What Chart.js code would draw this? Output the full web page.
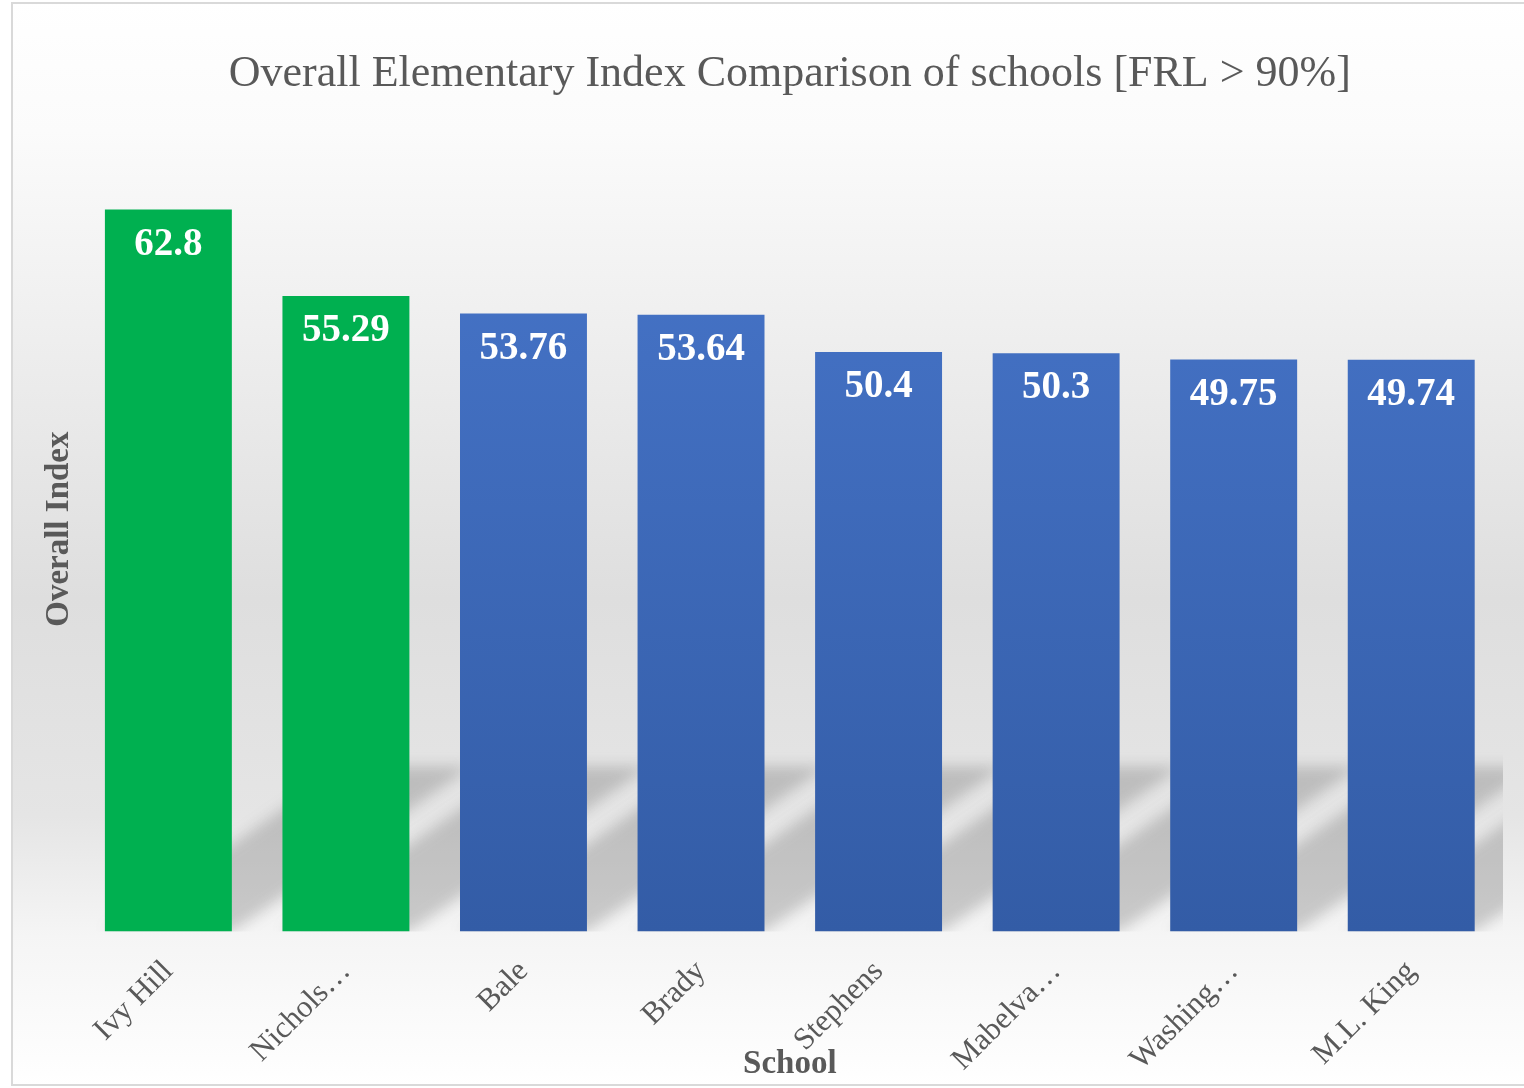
<!DOCTYPE html>
<html>
<head>
<meta charset="utf-8">
<title>Overall Elementary Index Comparison</title>
<script src="https://cdn.jsdelivr.net/npm/chart.js@4.4.1/dist/chart.umd.min.js"></script>
<style>
  html, body { margin: 0; padding: 0; background: #ffffff; }
  canvas { display: block; }
</style>
</head>
<body>
<canvas id="indexChart" width="1524" height="1088"></canvas>
<script>
// Données du graphique
const schools = ['Ivy Hill', 'Nichols…', 'Bale', 'Brady', 'Stephens', 'Mabelva…', 'Washing…', 'M.L. King'];
const overallIndex = [62.8, 55.29, 53.76, 53.64, 50.4, 50.3, 49.75, 49.74];
const highlighted = ['Ivy Hill', 'Nichols…'];

const textGray = '#595959';
const serif = '"Liberation Serif", "Times New Roman", serif';

// Fond dégradé et bordure du graphique
const backgroundPlugin = {
    id: 'backgroundPlugin',
    beforeDraw(chart) {
        const ctx = chart.ctx;
        const h = chart.height;
        const g = ctx.createLinearGradient(0, 0, 0, h);
        g.addColorStop(0, '#ffffff');
        g.addColorStop(0.12, '#fbfbfb');
        g.addColorStop(0.55, '#dedede');
        g.addColorStop(0.75, '#e5e5e5');
        g.addColorStop(0.86, '#f5f5f5');
        g.addColorStop(1, '#ffffff');
        ctx.save();
        ctx.fillStyle = g;
        ctx.fillRect(12, 3, chart.width, h - 6);
        ctx.strokeStyle = '#d9d9d9';
        ctx.lineWidth = 2;
        ctx.strokeRect(12, 3, chart.width + 10, h - 6);
        ctx.restore();
    }
};

// Ombres en perspective derrière les barres
const shadowPlugin = {
    id: 'shadowPlugin',
    beforeDatasetsDraw(chart) {
        const ctx = chart.ctx;
        const area = chart.chartArea;
        const bars = chart.getDatasetMeta(0).data;
        ctx.save();
        ctx.beginPath();
        ctx.rect(area.left, area.top, area.right - area.left + 3, area.bottom - area.top);
        ctx.clip();
        ctx.filter = 'blur(7px)';
        ctx.fillStyle = 'rgba(90, 90, 90, 0.28)';
        const dx = 240, dy = 165;
        bars.forEach(bar => {
            const left = bar.x - bar.width / 2;
            const right = bar.x + bar.width / 2;
            ctx.beginPath();
            ctx.moveTo(left, bar.base);
            ctx.lineTo(right, bar.base);
            ctx.lineTo(right + dx, bar.base - dy);
            ctx.lineTo(left + dx, bar.base - dy);
            ctx.closePath();
            ctx.fill();
        });
        ctx.restore();
    }
};

// Étiquettes de valeurs à l'intérieur des barres
const valueLabelPlugin = {
    id: 'valueLabelPlugin',
    afterDatasetsDraw(chart) {
        const ctx = chart.ctx;
        const values = chart.data.datasets[0].data;
        ctx.save();
        ctx.fillStyle = '#ffffff';
        ctx.font = 'bold 39px ' + serif;
        ctx.textAlign = 'center';
        ctx.textBaseline = 'middle';
        chart.getDatasetMeta(0).data.forEach((bar, i) => {
            ctx.fillText(String(values[i]), bar.x, bar.y + 35);
        });
        ctx.restore();
    }
};

function barColor(context) {
    const chart = context.chart;
    const area = chart.chartArea;
    if (highlighted.includes(schools[context.dataIndex])) {
        return '#00b050';
    }
    if (!area) {
        return '#4472c4';
    }
    const g = chart.ctx.createLinearGradient(0, area.top + 80, 0, area.bottom);
    g.addColorStop(0, '#4674c8');
    g.addColorStop(1, '#335ca6');
    return g;
}

const ctx = document.getElementById('indexChart').getContext('2d');
new Chart(ctx, {
    type: 'bar',
    data: {
        labels: schools,
        datasets: [{
            label: 'Overall Index',
            data: overallIndex,
            backgroundColor: barColor,
            borderWidth: 0,
            barPercentage: 0.715,
            categoryPercentage: 1
        }]
    },
    options: {
        responsive: false,
        animation: false,
        layout: {
            padding: { left: 24, right: 24, top: 0, bottom: 4 }
        },
        plugins: {
            legend: { display: false },
            tooltip: { enabled: false },
            title: {
                display: true,
                fullSize: false,
                text: 'Overall Elementary Index Comparison of schools [FRL > 90%]',
                color: textGray,
                font: { family: serif, size: 44, weight: 'normal' },
                padding: { top: 48, bottom: 26 }
            }
        },
        scales: {
            x: {
                grid: { display: false, drawTicks: false },
                border: { display: false },
                ticks: {
                    color: textGray,
                    font: { family: serif, size: 31 },
                    maxRotation: 45,
                    minRotation: 45,
                    padding: 22
                },
                title: {
                    display: true,
                    text: 'School',
                    color: textGray,
                    font: { family: serif, size: 33, weight: 'bold' },
                    padding: { top: -56, bottom: 0 }
                }
            },
            y: {
                min: 0,
                max: 70,
                grid: { display: false, drawTicks: false },
                border: { display: false },
                ticks: { display: false },
                title: {
                    display: true,
                    text: 'Overall Index',
                    color: textGray,
                    font: { family: serif, size: 33, weight: 'bold' },
                    padding: { top: 16, bottom: 0 }
                }
            }
        }
    },
    plugins: [backgroundPlugin, shadowPlugin, valueLabelPlugin]
});
</script>
</body>
</html>
